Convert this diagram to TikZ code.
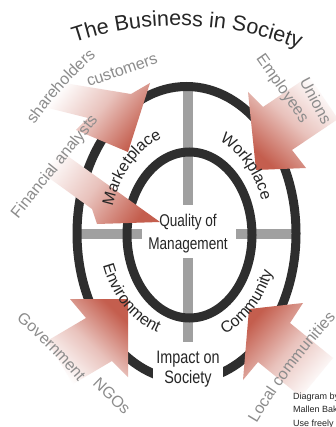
\documentclass[tikz,border=0pt]{standalone}
\usepackage{fontspec}
\setmainfont{Liberation Sans}
\newfontfamily\narrowsans[FakeStretch=0.8]{Liberation Sans}
\usetikzlibrary{decorations.text}

\definecolor{ringdark}{HTML}{2E2E2E}
\definecolor{crossgray}{HTML}{A0A0A0}
\definecolor{labelgray}{HTML}{8C8C8C}
\definecolor{textdark}{HTML}{262626}
\definecolor{arrowred}{HTML}{C45E4E}

\newcommand\stakefont{\fontsize{16}{18}\selectfont}
\newcommand\ringfont{\fontsize{16}{18}\selectfont}
\newcommand\titlefont{\fontsize{21.5}{24}\selectfont}

\tikzset{
  ring/.style={draw=ringdark, line width=9pt},
  crossbar/.style={draw=crossgray, line width=10.5pt},
  pusharrow/.style={top color=white, bottom color=arrowred, middle color=arrowred!38, shading angle=#1},
  graylabel/.style={text=labelgray, font=\stakefont, inner sep=0pt},
  centrelabel/.style={text=textdark, align=center, inner sep=3pt},
}

\begin{document}
\begin{tikzpicture}[x=1pt, y=1pt]
    \useasboundingbox (0,0) rectangle (336,-427);
    \fill[white] (0,0) rectangle (336,-427);
    \coordinate (hub) at (188,-234);

    % Gray cross, broken by the centre text
    \draw[crossbar] (188,-87) -- (188,-205);
    \draw[crossbar] (188,-258) -- (188,-342);
    \draw[crossbar] (77,-234) -- (142,-234);
    \draw[crossbar] (236,-234) -- (296,-234);

    % The two rings
    \draw[ring] (186.5,-233.5) ellipse [x radius=109.5, y radius=147];
    \draw[ring] (189.5,-235) ellipse [x radius=62.5, y radius=83];

    % Stakeholder arrows, fading out towards the tail
    \shade[pusharrow=51] (58,-82) -- (131,-94) -- (150,-83) -- (128,-152) -- (76,-130) -- (88,-118) -- (40,-106) -- cycle;
    \shade[pusharrow=318] (309,-76) -- (263,-107) -- (248,-92) -- (256,-170) -- (306,-168) -- (292,-150) -- (338,-119) -- cycle;
    \shade[pusharrow=54] (48,-142) -- (160,-222) -- (97,-224) -- (92,-209) -- (38,-170) -- cycle;
    \shade[pusharrow=136] (47,-341) -- (86,-318) -- (70,-299) -- (128,-299) -- (128,-377) -- (112,-361) -- (73,-384) -- cycle;
    \shade[pusharrow=229] (333,-358) -- (290,-323) -- (303,-303) -- (249,-309) -- (243,-380) -- (258,-362) -- (301,-397) -- cycle;

    % Title on an arc
    \path[decorate, decoration={text along path, text align=center, text color=textdark,
          text={|\titlefont|The Business in Society}}]
        (178.6,-352.5) ++(112:326.7) arc[start angle=112, end angle=65, radius=326.7];

    % Ring labels
    \path[decorate, decoration={text along path, text align=center, text color=textdark,
          text={|\ringfont|Marketplace}}]
        (hub) ++(178:78 and 102) arc[start angle=178, end angle=92, x radius=78, y radius=102];
    \path[decorate, decoration={text along path, text align=center, text color=textdark,
          text={|\ringfont|Workplace}}]
        (hub) ++(88:78 and 102) arc[start angle=88, end angle=2, x radius=78, y radius=102];
    \path[decorate, decoration={text along path, text align=center, text color=textdark,
          text={|\ringfont|Environment}}]
        (hub) ++(180:89 and 105) arc[start angle=180, end angle=270, x radius=89, y radius=105];
    \path[decorate, decoration={text along path, text align=center, text color=textdark,
          text={|\ringfont|Community}}]
        (hub) ++(270:90 and 110) arc[start angle=270, end angle=360, x radius=90, y radius=110];

    % Stakeholders
    \path[decorate, decoration={text along path, text align=center, text color=labelgray,
          text={|\stakefont|shareholders}}]
        (338,-336) ++(158:370) arc[start angle=158, end angle=118, radius=370];
    \path[decorate, decoration={text along path, text align=center, text color=labelgray,
          text={|\stakefont|Government}}]
        (-305,-703) ++(55:500) arc[start angle=55, end angle=35, radius=500];
    \path[decorate, decoration={text along path, text align=center, text color=labelgray,
          text={|\stakefont|Local communities}}]
        (772.6,-729.6) ++(152:600) arc[start angle=152, end angle=134, radius=600];
    \node[graylabel, rotate=19] (customers) at (122,-70) {customers};
    \node[graylabel, rotate=51] (analysts) at (55,-167) {Financial analysts};
    \node[graylabel, rotate=-55] (employees) at (282,-89) {Employees};
    \node[graylabel, rotate=-62] (unions) at (316,-101) {Unions};
    \node[graylabel, rotate=-44] (ngos) at (112,-396) {NGOs};

    % Centre and bottom text
    \node[centrelabel, font=\narrowsans\fontsize{17}{23}\selectfont] (quality) at (188,-234) {Quality of\\Management};
    \node[centrelabel, fill=white, font=\narrowsans\fontsize{18}{19.5}\selectfont] (impact) at (188,-369) {Impact on\\Society};

    \node[anchor=north west, inner sep=0pt, align=left, text=textdark,
          font=\fontsize{9}{13.5}\selectfont] (credit) at (293,-392.5) {Diagram by\\Mallen Baker\\Use freely};
\end{tikzpicture}
\end{document}
